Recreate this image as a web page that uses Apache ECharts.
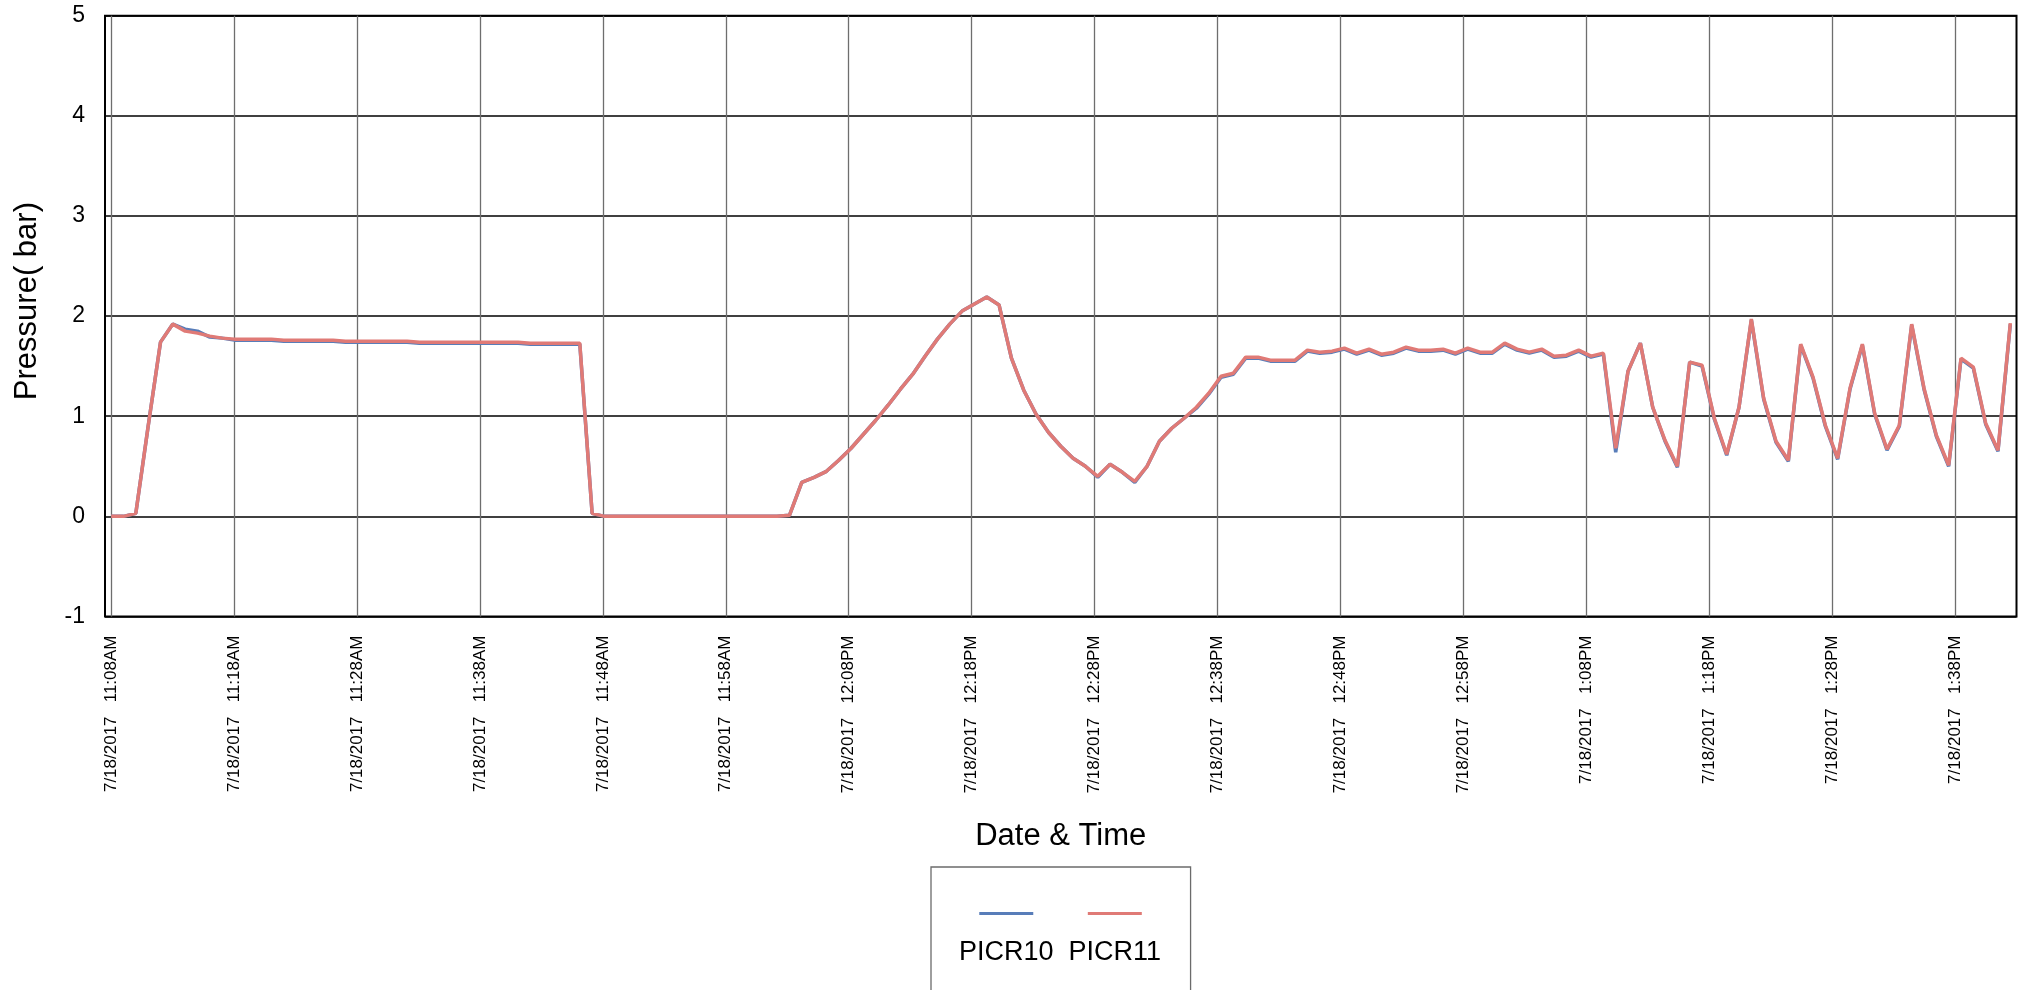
<!DOCTYPE html>
<html>
<head>
<meta charset="utf-8">
<script src="https://cdn.jsdelivr.net/npm/echarts@6/dist/echarts.min.js"></script>
<style>
html,body{margin:0;padding:0;background:#fff;}
#chart{width:2019px;height:990px;}
</style>
</head>
<body>
<div id="chart"></div>
<script>
// ---- data (one sample per ~minute, 7/18/2017 11:08AM .. 1:42PM) ----
const seriesNames = ['PICR10', 'PICR11'];
const picr10 = [
  0.00,0.00,0.03,0.90,1.74,1.92,1.87,1.85,1.79,1.78,
  1.76,1.76,1.76,1.76,1.75,1.75,1.75,1.75,1.75,1.74,
  1.74,1.74,1.74,1.74,1.74,1.73,1.73,1.73,1.73,1.73,
  1.73,1.73,1.73,1.73,1.72,1.72,1.72,1.72,1.72,0.03,
  0.00,0.00,0.00,0.00,0.00,0.00,0.00,0.00,0.00,0.00,
  0.00,0.00,0.00,0.00,0.00,0.01,0.34,0.39,0.45,0.56,
  0.68,0.82,0.96,1.11,1.27,1.42,1.60,1.77,1.92,2.05,
  2.12,2.19,2.11,1.58,1.26,1.02,0.84,0.70,0.58,0.50,
  0.39,0.52,0.44,0.34,0.50,0.75,0.88,0.98,1.08,1.22,
  1.39,1.42,1.58,1.58,1.55,1.55,1.55,1.65,1.63,1.64,
  1.67,1.62,1.66,1.61,1.63,1.68,1.65,1.65,1.66,1.62,
  1.67,1.63,1.63,1.72,1.66,1.63,1.66,1.59,1.60,1.65,
  1.59,1.62,0.64,1.45,1.73,1.09,0.75,0.49,1.54,1.50,
  0.97,0.61,1.09,1.96,1.17,0.74,0.55,1.71,1.38,0.90,
  0.57,1.27,1.71,1.02,0.66,0.90,1.91,1.27,0.80,0.50,
  1.57,1.48,0.92,0.65,1.92
];
const picr11 = [
  0.00,0.00,0.03,0.90,1.74,1.92,1.85,1.83,1.80,1.78,
  1.77,1.77,1.77,1.77,1.76,1.76,1.76,1.76,1.76,1.75,
  1.75,1.75,1.75,1.75,1.75,1.74,1.74,1.74,1.74,1.74,
  1.74,1.74,1.74,1.74,1.73,1.73,1.73,1.73,1.73,0.03,
  0.00,0.00,0.00,0.00,0.00,0.00,0.00,0.00,0.00,0.00,
  0.00,0.00,0.00,0.00,0.00,0.01,0.34,0.39,0.45,0.56,
  0.68,0.82,0.96,1.11,1.27,1.42,1.60,1.77,1.92,2.05,
  2.12,2.19,2.11,1.58,1.26,1.02,0.84,0.70,0.58,0.50,
  0.40,0.52,0.44,0.35,0.50,0.75,0.88,0.98,1.09,1.23,
  1.40,1.43,1.59,1.59,1.56,1.56,1.56,1.66,1.64,1.65,
  1.68,1.63,1.67,1.62,1.64,1.69,1.66,1.66,1.67,1.63,
  1.68,1.64,1.64,1.73,1.67,1.64,1.67,1.60,1.61,1.66,
  1.60,1.63,0.68,1.45,1.73,1.09,0.76,0.50,1.54,1.51,
  0.98,0.62,1.09,1.97,1.18,0.75,0.56,1.72,1.39,0.91,
  0.58,1.28,1.72,1.03,0.67,0.91,1.92,1.28,0.81,0.51,
  1.58,1.49,0.93,0.66,1.93
];
const tickLabels = [
  '7/18/2017   11:08AM','7/18/2017   11:18AM','7/18/2017   11:28AM','7/18/2017   11:38AM',
  '7/18/2017   11:48AM','7/18/2017   11:58AM','7/18/2017   12:08PM','7/18/2017   12:18PM',
  '7/18/2017   12:28PM','7/18/2017   12:38PM','7/18/2017   12:48PM','7/18/2017   12:58PM',
  '7/18/2017   1:08PM','7/18/2017   1:18PM','7/18/2017   1:28PM','7/18/2017   1:38PM'
];
const yMin = -1, yMax = 5, yStep = 1;

// sample categories (one per reading)
const sampleCats = picr11.map((v, i) => 'sample ' + (i + 1));
// half-minute slots from 11:07:30 to 13:43:00 carrying the labelled ticks
const SLOTS_PER_TICK = 20, FIRST_TICK_SLOT = 1, SLOT_COUNT = 312;
const slotCats = Array.from({length: SLOT_COUNT}, (_, k) => 'slot ' + k);
const isTickSlot = (idx) => idx >= FIRST_TICK_SLOT && (idx - FIRST_TICK_SLOT) % SLOTS_PER_TICK === 0
  && (idx - FIRST_TICK_SLOT) / SLOTS_PER_TICK < tickLabels.length;

const FONT = "'Liberation Sans', Arial, sans-serif";
const colors = ['#587DB9', '#E07A76'];

const chart = echarts.init(document.getElementById('chart'), null, {renderer: 'canvas'});
chart.setOption({
  animation: false,
  backgroundColor: '#fff',
  textStyle: {fontFamily: FONT, color: '#000'},
  color: colors,
  grid: {
    left: 105, right: 2.5, top: 15.7, bottom: 373.5,
    show: true, borderColor: '#000', borderWidth: 2, backgroundColor: 'transparent',
    containLabel: false
  },
  legend: {
    data: seriesNames,
    left: 931, top: 867,
    orient: 'horizontal',
    itemWidth: 0, itemHeight: 0, itemGap: 9,
    itemStyle: {opacity: 0}, lineStyle: {opacity: 0},
    padding: [40.5, 29.5, 80, 22],
    borderColor: '#6b6b6b', borderWidth: 1.3,
    backgroundColor: '#fff',
    formatter: (name) => '{' + (name === seriesNames[0] ? 'a' : 'b') + '| }\n{n|' + name + '}',
    textStyle: {
      fontFamily: FONT, color: '#000',
      rich: {
        a: {width: 54, height: 3, lineHeight: 48, backgroundColor: colors[0], align: 'center'},
        b: {width: 54, height: 3, lineHeight: 48, backgroundColor: colors[1], align: 'center'},
        n: {fontSize: 27, lineHeight: 30, align: 'center', color: '#000', fontFamily: FONT}
      }
    }
  },
  xAxis: [
    {
      type: 'category', data: sampleCats, boundaryGap: true, position: 'top',
      show: false
    },
    {
      type: 'category', data: slotCats, boundaryGap: false, position: 'bottom',
      axisLine: {show: false}, axisTick: {show: false},
      axisLabel: {
        interval: (idx) => isTickSlot(idx),
        formatter: (val, idx) => tickLabels[(idx - FIRST_TICK_SLOT) / SLOTS_PER_TICK],
        rotate: 90, margin: 19, fontSize: 17, color: '#000', fontFamily: FONT
      },
      splitLine: {show: true, interval: (idx) => isTickSlot(idx), lineStyle: {color: '#6e6e6e', width: 1.3}},
      name: 'Date & Time', nameLocation: 'middle', nameGap: 204,
      nameTextStyle: {fontSize: 31, color: '#000', fontFamily: FONT}
    }
  ],
  yAxis: {
    type: 'value', min: yMin, max: yMax, interval: yStep,
    axisLine: {show: false}, axisTick: {show: false},
    axisLabel: {fontSize: 23, color: '#000', margin: 20, fontFamily: FONT},
    splitLine: {show: true, lineStyle: {color: '#000', width: 1.5}},
    name: 'Pressure( bar)', nameLocation: 'middle', nameGap: 62,
    nameTextStyle: {fontSize: 31, color: '#000', fontFamily: FONT, padding: [0, 0, 0, 30]}
  },
  series: [
    {name: seriesNames[0], type: 'line', xAxisIndex: 0, data: picr10, symbol: 'none',
     lineStyle: {width: 3.5, color: colors[0]}, itemStyle: {color: colors[0]}},
    {name: seriesNames[1], type: 'line', xAxisIndex: 0, data: picr11, symbol: 'none',
     lineStyle: {width: 3.5, color: colors[1]}, itemStyle: {color: colors[1]}}
  ]
});
</script>
</body>
</html>
